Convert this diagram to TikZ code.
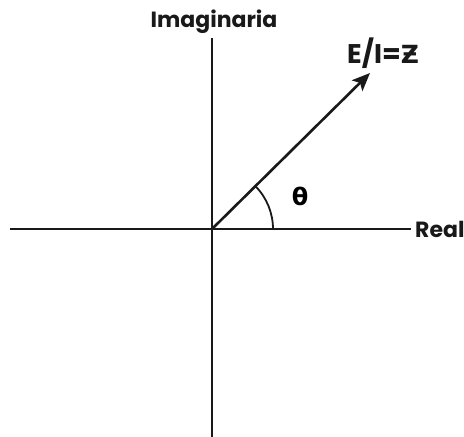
\documentclass[tikz,border=0pt]{standalone}
\usepackage{fontspec}
\setmainfont{Poppins}
\newfontfamily\greekfont{DejaVu Sans}
\usetikzlibrary{arrows.meta, positioning}

\begin{document}
\begin{tikzpicture}[
    x=1pt, y=-1pt,
    axis/.style={line width=2.6pt, color=black!90},
    phasor/.style={line width=2.6pt, color=black!90, -{Stealth[length=18pt, width=15pt, inset=4pt]}},
    anglearc/.style={line width=1.8pt, color=black!90},
    axislabel/.style={font=\bfseries\fontsize{22}{24}\selectfont, inner sep=0pt, text=black!90},
    phasorlabel/.style={font=\bfseries\fontsize{27}{30}\selectfont, inner sep=0pt, text=black!90}
]
\useasboundingbox (0,0) rectangle (464,437);

% Axis end points
\coordinate (O) at (212,229);
\coordinate (west) at (10,229);
\coordinate (east) at (411,229);
\coordinate (north) at (212,38);
\coordinate (south) at (212,437);
\coordinate (tip) at (370,73);

% Axes
\draw[axis] (west) -- (east);
\draw[axis] (north) -- (south);

% Labels
\node[axislabel, anchor=west] (real) at (415,229) {Real};
\node[axislabel, anchor=base] (imag) at (214,27) {Imaginaria};
\node[phasorlabel, anchor=base west] (zlabel) at (347,63) {E/I={\greekfont\fontsize{25}{28}\selectfont Ƶ}};

% Phasor and angle
\draw[phasor] (O) -- (tip);
\draw[anglearc] (O) ++(61,0) arc[start angle=0, end angle=-44.6, radius=61];
\node[font=\greekfont\bfseries\fontsize{24}{26}\selectfont, inner sep=0pt] (theta) at (300,196) {θ};

\end{tikzpicture}
\end{document}
